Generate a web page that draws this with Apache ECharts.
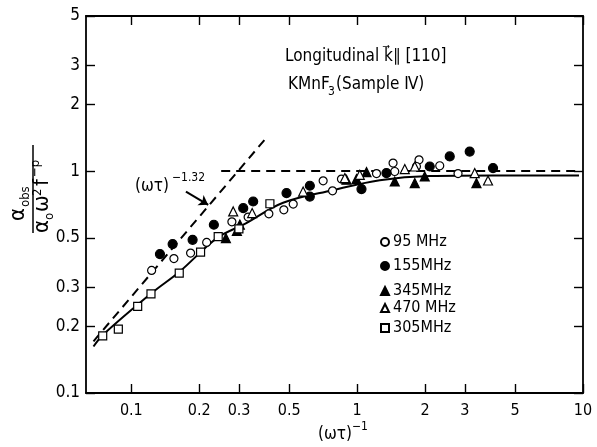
<!DOCTYPE html>
<html><head><meta charset="utf-8">
<script src="https://cdn.jsdelivr.net/npm/echarts@6/dist/echarts.min.js"></script>
<style>html,body{margin:0;padding:0;background:#fff}#c{width:597px;height:447px}</style>
</head><body><div id="c"></div>
<script>
const FONT = "'DejaVu Sans Condensed','Liberation Sans Narrow','DejaVu Sans',sans-serif";
const xTicks = [0.1, 0.2, 0.3, 0.5, 1, 2, 3, 5, 10];
const yTicks = [0.1, 0.2, 0.3, 0.5, 1, 2, 3, 5];
const seriesNames = ['95 MHz', '155MHz', '345MHz', '470 MHz', '305MHz'];

const f95X = [0.123, 0.1544, 0.183, 0.2156, 0.2788, 0.329, 0.4065, 0.4735, 0.521, 0.707, 0.778, 0.852, 1.218, 1.442, 1.467, 1.879, 1.83, 2.321, 2.797];
const f95Y = [0.3567, 0.4036, 0.427, 0.477, 0.591, 0.6206, 0.642, 0.669, 0.710, 0.904, 0.815, 0.921, 0.975, 1.087, 0.996, 1.124, 1.049, 1.057, 0.975];
const f155X = [0.1339, 0.1524, 0.1868, 0.232, 0.313, 0.3464, 0.4867, 0.6173, 0.617, 1.045, 1.348, 2.096, 2.57, 3.15, 3.996];
const f155Y = [0.4228, 0.469, 0.490, 0.573, 0.681, 0.7296, 0.796, 0.859, 0.768, 0.83, 0.98, 1.049, 1.164, 1.225, 1.032];
const f345X = [0.2623, 0.2934, 0.3024, 0.897, 0.993, 1.10, 1.467, 1.799, 1.992, 3.374];
const f345Y = [0.499, 0.538, 0.574, 0.914, 0.921, 0.99, 0.898, 0.883, 0.946, 0.883];
const f470X = [0.2826, 0.3428, 0.5764, 0.882, 1.027, 1.625, 1.8, 3.315, 3.797];
const f470Y = [0.658, 0.647, 0.809, 0.931, 0.962, 1.021, 1.049, 0.98, 0.907];
const f305X = [0.0747, 0.0876, 0.1067, 0.1222, 0.163, 0.2026, 0.2425, 0.2995, 0.4108];
const f305Y = [0.181, 0.194, 0.2455, 0.280, 0.347, 0.4316, 0.507, 0.5496, 0.7125];

const curveX = [0.068, 0.075, 0.123, 0.164, 0.24, 0.32, 0.47, 0.78, 1.26, 2.1, 4.0, 9.6];
const curveY = [0.162, 0.183, 0.282, 0.353, 0.50, 0.58, 0.72, 0.82, 0.91, 0.95, 0.955, 0.955];
const slopeX = [0.068, 0.40];
const slopeY = [0.171, 1.43];
const plateauX = [0.25, 9.6];
const plateauY = [1.0, 1.0];
const arrowX = [0.1745, 0.219];
const arrowY = [0.809, 0.705];

const zip = (a, b) => a.map((v, i) => [v, b[i]]);
const fmt = v => String(Number(Number(v).toPrecision(3)));

const chart = echarts.init(document.getElementById('c'), null, {renderer: 'canvas'});

const axisCommon = {
  type: 'log', logBase: 10,
  axisLine: {show: true, lineStyle: {color: '#000', width: 1.8}},
  splitLine: {show: false},
  minorTick: {show: false},
  axisTick: {show: true, inside: true, length: 9, lineStyle: {color: '#000', width: 1.4}},
};

function scatter(name, xs, ys, symbol, filled, size) {
  return {
    name, type: 'scatter', data: zip(xs, ys), symbol, symbolSize: size,
    itemStyle: {color: filled ? '#000' : '#fff', borderColor: '#000', borderWidth: 1.2, opacity: 1},
    z: 5
  };
}

const option = {
  backgroundColor: '#fff',
  animation: false,
  grid: {left: 86, right: 14, top: 16, bottom: 54},
  xAxis: [
    Object.assign({}, axisCommon, {
      position: 'bottom', min: 0.063, max: 10,
      axisTick: Object.assign({}, axisCommon.axisTick, {customValues: xTicks}),
      axisLabel: {show: true, customValues: xTicks, formatter: fmt, margin: 10,
        color: '#000', fontFamily: FONT, fontSize: 16}
    }),
    Object.assign({}, axisCommon, {
      position: 'top', min: 0.063, max: 10,
      axisTick: Object.assign({}, axisCommon.axisTick, {customValues: xTicks}),
      axisLabel: {show: false}
    })
  ],
  yAxis: [
    Object.assign({}, axisCommon, {
      position: 'left', min: 0.1, max: 5,
      axisTick: Object.assign({}, axisCommon.axisTick, {customValues: yTicks}),
      axisLabel: {show: true, customValues: yTicks, formatter: fmt, margin: 6,
        color: '#000', fontFamily: FONT, fontSize: 17}
    }),
    Object.assign({}, axisCommon, {
      position: 'right', min: 0.1, max: 5,
      axisTick: Object.assign({}, axisCommon.axisTick, {customValues: yTicks}),
      axisLabel: {show: false}
    })
  ],
  legend: seriesNames.map((n, i) => ({
    data: [n], left: 380, top: [234, 258, 283, 300, 320][i],
    orient: 'vertical', itemWidth: 8, itemHeight: 8, itemGap: 0, padding: 0,
    selectedMode: false,
    textStyle: {color: '#000', fontFamily: FONT, fontSize: 16, padding: [0, 0, 0, -1]}
  })),
  series: [
    {type: 'line', data: zip(curveX, curveY), smooth: 0.35, showSymbol: false, symbol: 'none',
      lineStyle: {color: '#000', width: 2}, z: 3, silent: true},
    {type: 'line', data: zip(slopeX, slopeY), showSymbol: false, symbol: 'none',
      lineStyle: {color: '#000', width: 2, type: [9, 6]}, z: 3, silent: true},
    {type: 'line', data: zip(plateauX, plateauY), showSymbol: false, symbol: 'none',
      lineStyle: {color: '#000', width: 2, type: [9, 6]}, z: 3, silent: true},
    {type: 'lines', coordinateSystem: 'cartesian2d', silent: true,
      data: [{coords: zip(arrowX, arrowY)}], symbol: ['none', 'arrow'], symbolSize: 9,
      lineStyle: {color: '#000', width: 2, opacity: 1}, z: 4},
    scatter(seriesNames[0], f95X, f95Y, 'circle', false, 8),
    scatter(seriesNames[1], f155X, f155Y, 'circle', true, 9),
    scatter(seriesNames[2], f345X, f345Y, 'triangle', true, 9),
    scatter(seriesNames[3], f470X, f470Y, 'triangle', false, 9),
    scatter(seriesNames[4], f305X, f305Y, 'rect', false, 8)
  ],
  graphic: [
    {type: 'text', left: 285, top: 48, style: {text: 'Longitudinal k\u20D7\u2225 [110]', font: '17px ' + FONT, fill: '#000'}},
    {type: 'text', left: 288, top: 76, style: {text: 'KMnF', font: '17px ' + FONT, fill: '#000'}},
    {type: 'text', left: 328, top: 86, style: {text: '3', font: '12px ' + FONT, fill: '#000'}},
    {type: 'text', left: 336, top: 76, style: {text: '(Sample \u2163)', font: '17px ' + FONT, fill: '#000'}},
    {type: 'text', left: 135, top: 178, style: {text: '(\u03C9\u03C4)', font: '17px ' + FONT, fill: '#000'}},
    {type: 'text', left: 172, top: 172, style: {text: '\u22121.32', font: '12px ' + FONT, fill: '#000'}},
    {type: 'text', left: 318, top: 426, style: {text: '(\u03C9\u03C4)', font: '17px ' + FONT, fill: '#000'}},
    {type: 'text', left: 352, top: 421, style: {text: '\u22121', font: '12px ' + FONT, fill: '#000'}},
    {type: 'group', x: 33, y: 189, rotation: Math.PI / 2, children: [
      {type: 'line', shape: {x1: -44, y1: 0, x2: 44, y2: 0}, style: {stroke: '#000', lineWidth: 1.5}},
      {type: 'text', x: -32, y: -4, style: {text: '\u03B1', font: '22px ' + FONT, fill: '#000', textVerticalAlign: 'bottom'}},
      {type: 'text', x: -18, y: -1, style: {text: 'obs', font: '13px ' + FONT, fill: '#000', textVerticalAlign: 'bottom'}},
      {type: 'text', x: -44, y: 20, style: {text: '\u03B1', font: '22px ' + FONT, fill: '#000', textVerticalAlign: 'bottom'}},
      {type: 'text', x: -31, y: 23, style: {text: 'o', font: '13px ' + FONT, fill: '#000', textVerticalAlign: 'bottom'}},
      {type: 'text', x: -23, y: 20, style: {text: '\u03C9', font: '22px ' + FONT, fill: '#000', textVerticalAlign: 'bottom'}},
      {type: 'text', x: -7, y: 11, style: {text: '2', font: '13px ' + FONT, fill: '#000', textVerticalAlign: 'bottom'}},
      {type: 'text', x: 3, y: 20, style: {text: 'f', font: '22px ' + FONT, fill: '#000', textVerticalAlign: 'bottom'}},
      {type: 'text', x: 12, y: 9, style: {text: '\u2212p', font: '13px ' + FONT, fill: '#000', textVerticalAlign: 'bottom'}}
    ]}
  ]
};
chart.setOption(option);
</script>
</body></html>
